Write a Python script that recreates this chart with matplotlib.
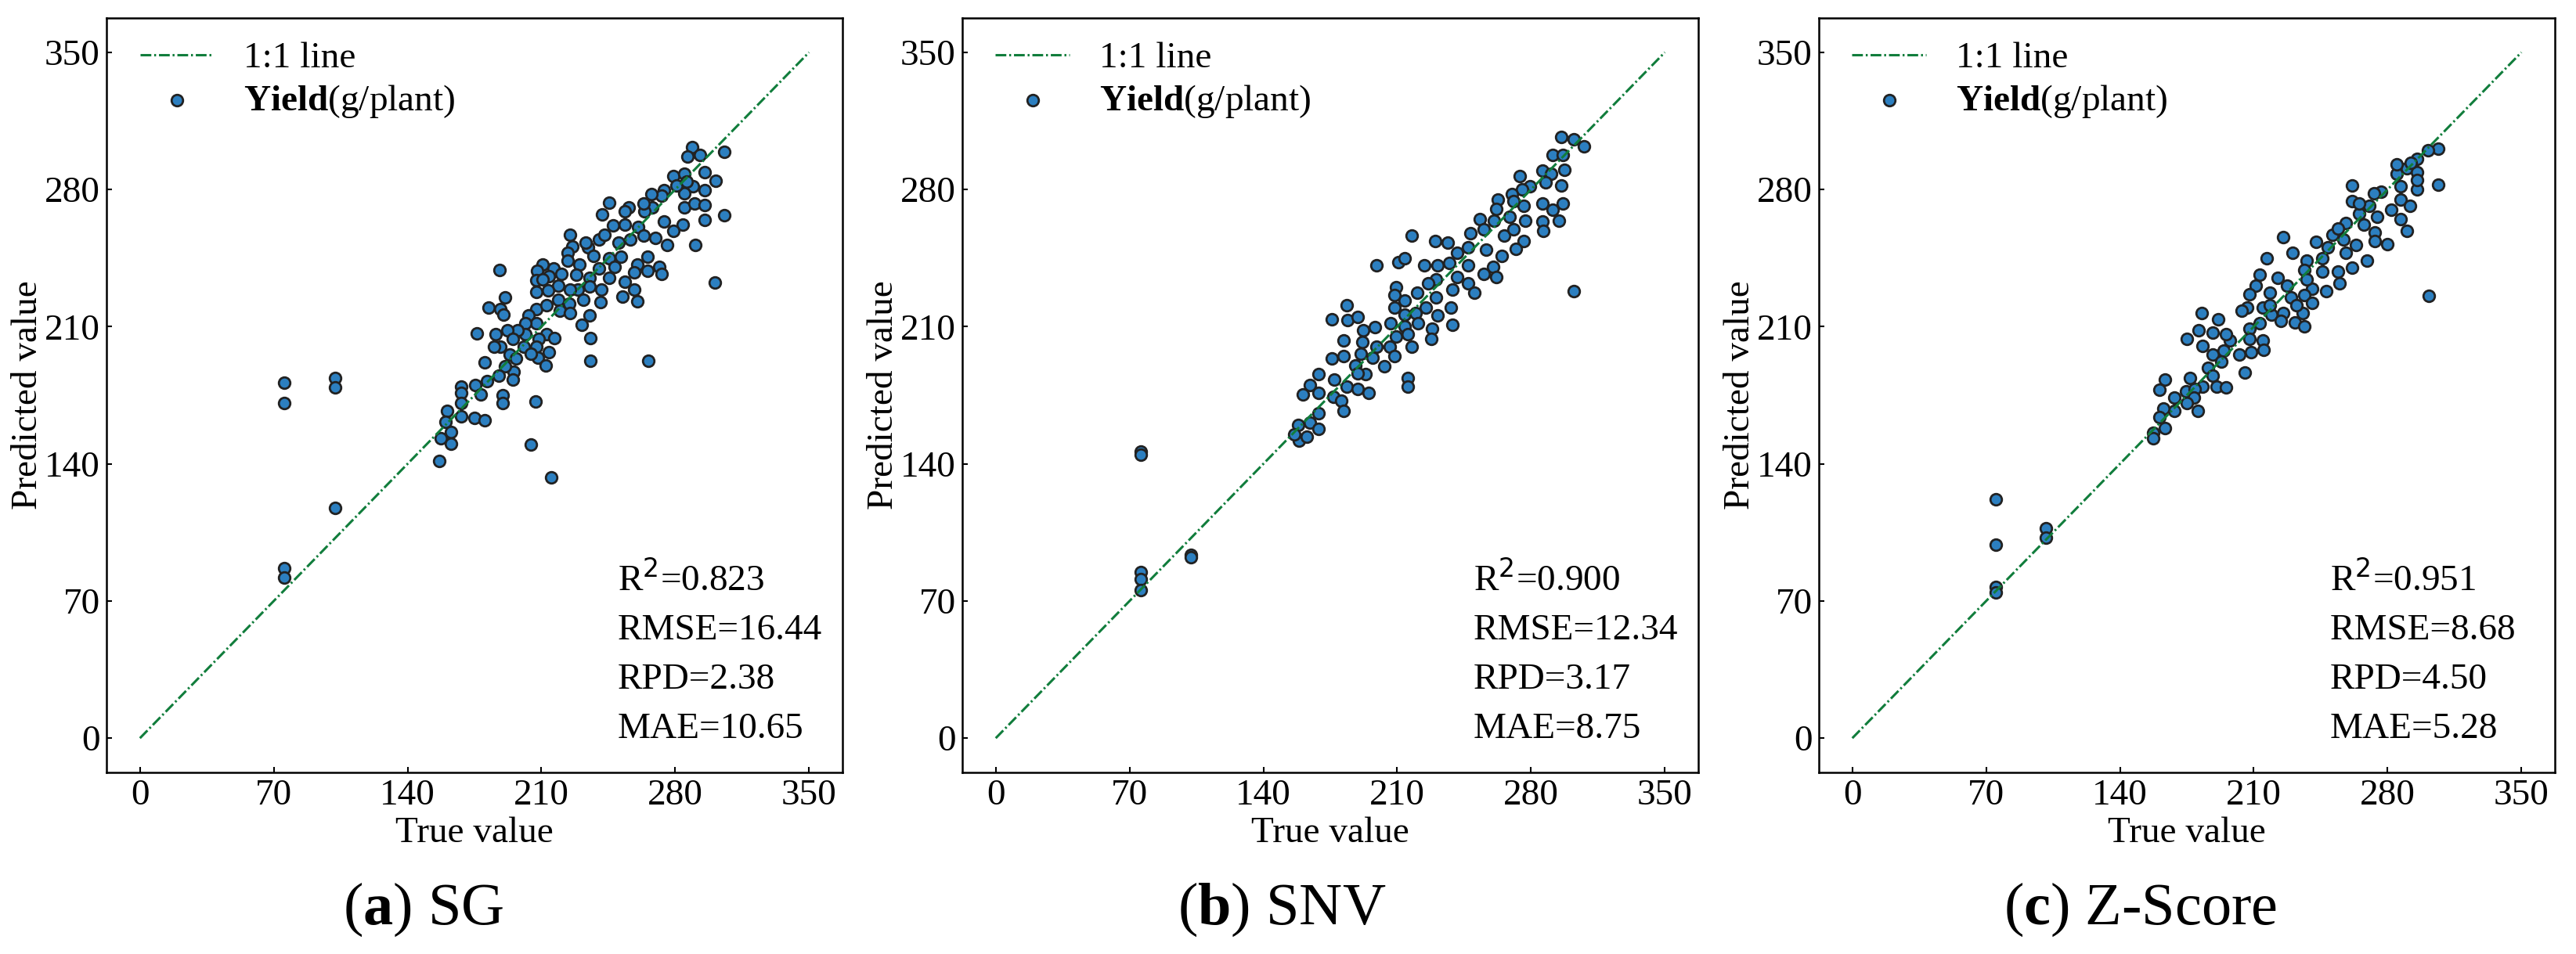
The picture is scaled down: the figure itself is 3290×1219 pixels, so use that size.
import matplotlib.pyplot as plt

plt.rcParams['font.family'] = ['Liberation Serif', 'DejaVu Serif']
plt.rcParams['mathtext.fontset'] = 'custom'
plt.rcParams['mathtext.rm'] = 'DejaVu Sans'
plt.rcParams['mathtext.bf'] = 'Liberation Serif:bold'

## values (true, predicted)
sg_true = [75.5, 75.5, 102, 102, 102.3, 75.6, 75.6, 156.5, 215,
           288.7, 286.6, 292.8, 305.8, 295.3, 279.1, 284.6, 301, 289.4, 295.3,
           284.6, 274.3, 284.6, 290, 295.3, 305.8, 295.3, 283.9, 279.1, 290.5,
           275.7, 269.5, 274.3, 268.1, 264, 255.8, 245.5, 241.8, 247.6, 253.8,
           260.6, 263.4, 256.5, 250.3, 240.1, 234.5, 237.3, 245.5, 251.7, 265.5,
           260, 271.6, 273, 300.6, 265.5, 258.6, 253.8, 245.5, 248.3, 240.1,
           225, 226.3, 223.6, 223.6, 229.8, 228.4, 235.3, 235.3, 229.2, 225,
           218.9, 216.2, 210.7, 207.9, 207.2, 207.2, 213.4, 218.9, 224.4, 231.9,
           240.8, 241.5, 252.4, 260, 258.6, 235.3, 231.2, 235.7, 235.7, 265.8,
           207.2, 212.6, 203.1, 207.2, 212.6, 216.8, 208.6, 207.2, 214, 208,
           212.1, 201.7, 201.7, 197.6, 192.1, 194.9, 186, 176.3, 188.3, 191,
           182.3, 188.7, 190.1, 188.7, 193.5, 196.9, 195.6, 190.8, 180.4, 187.9,
           194.9, 181.7, 175.6, 168.1, 168.1, 178.3, 189.9, 189.9, 207, 168.1,
           160.6, 168.1, 174.9, 180.4, 159.9, 162.7, 157.2, 162.7, 204.4, 253.8,
           263.4, 273, 267.5, 280.5, 286, 242.8, 233.2, 220.3, 214.1, 210.7,
           219.5, 225, 201, 204.4, 185.2]
sg_pred = [181.5, 171, 183.7, 179, 117.5, 86.9, 81.9, 141.5, 133,
           301.5, 296.8, 297.5, 299.3, 288.9, 286.9, 288.2, 284.5, 281.5, 279.5,
           278.2, 279.5, 270.9, 272.9, 272.2, 266.9, 264.3, 262.2, 258.9, 251.7,
           251.7, 255.3, 263.6, 270.9, 268.9, 270.9, 273.3, 267.2, 261.6, 262.2,
           260.9, 256.3, 254.3, 252.9, 254.3, 250.3, 246.3, 245, 245.7, 245.7,
           241.7, 240.4, 237.1, 232.7, 238.4, 237.7, 233.1, 235, 240.4, 239.7,
           256.9, 250.9, 247.6, 243.7, 241.7, 236.4, 235, 230.4, 229.1, 229.1,
           231.1, 239.7, 241.7, 238.4, 233.7, 227.7, 228.4, 223.8, 221.8, 223.8,
           222.5, 229.1, 225.5, 222.8, 228.8, 215.6, 210.9, 204.3, 192.6, 192.4,
           218.9, 220.9, 215.6, 211.6, 206.3, 204.3, 203.6, 199.6, 197, 194.3,
           190.3, 211.6, 206.3, 208.3, 208.3, 203.6, 206.3, 206.6, 238.9, 225,
           219.6, 218.9, 216.3, 199.6, 195.6, 193.6, 186.9, 189.6, 191.6, 184.9,
           182.9, 182.3, 180.3, 179.6, 176.3, 175.6, 174.9, 170.9, 172, 170.9,
           166.9, 164.3, 163.6, 162.3, 161.6, 156.3, 153, 150.3, 149.7, 268.9,
           272.9, 276.9, 277.6, 282.2, 284.2, 256.9, 252.9, 236.9, 235.6, 234.3,
           218.3, 217, 199.6, 196.3, 199.6]

snv_true = [75.7, 75.7, 75.7, 75.7, 75.7, 102.3, 102.3,
            296, 302.2, 307.6, 291.2, 296.7, 297.4, 285.8, 290.6, 274.2, 287.8,
            296, 279.6, 275.5, 270, 285.8, 296.7, 276.2, 270.7, 262.5, 261.9,
            291.2, 268.8, 277, 285.8, 294.6, 286.5, 253.1, 260.5, 248.2, 255.1,
            266, 270.7, 276.2, 217.5, 229.8, 236.6, 241.4, 246.9, 256.4, 264.6,
            272.1, 199, 210.6, 214.1, 224.3, 231.2, 237.3, 246.9, 260, 241.4,
            255.1, 261.9, 230.4, 226.3, 246.9, 238.7, 250.3, 302.2, 209.3, 220.3,
            230.4, 208.6, 214.1, 225, 238, 208.6, 214.1, 219.5, 231.1, 206.6,
            214.1, 221, 228.4, 238.7, 227.7, 209.3, 215.5, 217.5, 206, 208.6,
            203.2, 183.4, 175.9, 184, 189.5, 192.3, 198.4, 182, 191.6, 199,
            175.9, 182, 190.9, 197, 188.1, 193.6, 189.5, 215.4, 215.4, 169,
            164.2, 160.8, 169, 177.2, 183.4, 176.5, 180.6, 189.5, 195, 182,
            169, 158.1, 164.2, 169, 158.8, 162.9, 156]
snv_pred = [146.1, 144.6, 84.7, 81, 75.4, 93.4, 92.5,
            306.8, 305.5, 302.2, 297.5, 297.5, 290.2, 289.5, 288.2, 286.9, 283.5,
            282.2, 281.5, 280.2, 277.5, 272.9, 272.9, 271.6, 274.2, 274.9, 270.2,
            269.5, 266.2, 264.2, 263.6, 264.2, 258.9, 264.9, 264.2, 257.6, 259.6,
            256.3, 259.6, 253.6, 256.3, 253.6, 252.9, 247.9, 250.3, 249.2, 246.3,
            249.6, 241.2, 242.9, 244.9, 241.2, 241.2, 242.5, 241.2, 240.5, 235.5,
            236.9, 235.5, 234.2, 232.2, 232.2, 228.9, 227.5, 228.2, 230.2, 227.5,
            224.9, 226.2, 223.5, 219.6, 219.6, 219.6, 216.3, 216.9, 215.6, 211.6,
            210.3, 211.6, 209, 210.9, 203.6, 205, 206.3, 199.6, 199.6, 194.9,
            189.6, 220.9, 213.6, 213.2, 214.9, 208.3, 209.6, 203, 202.3, 199.6,
            193.6, 194.9, 196.3, 194.3, 190.3, 185.6, 186.3, 183.6, 179.6, 185.6,
            180.3, 175.6, 176.3, 182.9, 179.6, 174.3, 172.3, 178.3, 176.3, 167,
            165.7, 159.7, 161, 157.7, 151.7, 153.7, 155.1]

zs_true = [74.9, 74.9, 75, 75, 101.4, 101.4,
           306.4, 301, 295.5, 290.1, 295.5, 284.6, 306.4, 261.5, 261.5, 286.8,
           295.5, 276.5, 286.8, 291.6, 282.1, 270.5, 274.6, 286.8, 290.1, 265,
           258.2, 267.7, 273.2, 280, 225.4, 242.5, 251.3, 256.8, 263.6, 273.2,
           230.2, 216.6, 237.7, 245.9, 258.2, 269.1, 213.2, 222.7, 236.4, 245.9,
           254.1, 261.5, 254.8, 248, 240.5, 227.5, 211.2, 207.7, 218.6, 229.5,
           236.4, 240.5, 301.4, 206.4, 214.6, 219.3, 225.4, 235.6, 231.5, 236.4,
           224, 213.2, 207.7, 182.6, 191.5, 181.2, 188.7, 175.1, 183.3, 197.5,
           195.5, 207.7, 214.6, 215.3, 208.4, 202.4, 194.2, 188.7, 186, 192.9,
           205.2, 188.7, 190.7, 195.5, 183.3, 176.5, 163.5, 160.8, 168.3, 174.4,
           179.2, 178.5, 175.1, 180.6, 168.3, 162.8, 160.8, 163.5, 157.4, 157.4,
           295.5, 284.6, 292.1, 273, 265, 248.6, 254.1, 237.7, 232.2, 218.6,
           203.6]
zs_pred = [122, 98.8, 77, 74.5, 107.1, 102.5,
           300.8, 300.2, 295.5, 290.9, 288.9, 288.2, 282.5, 282.2, 274, 281.5,
           280.2, 278.9, 274.9, 271.6, 269.5, 271.6, 266.2, 264.9, 258.9, 267.6,
           262.9, 262.2, 258.2, 251.9, 255.6, 253.2, 256.9, 254.3, 251.6, 253.6,
           247.9, 244.9, 243.6, 244.9, 247.6, 243.6, 236.7, 235, 238.9, 238.2,
           238.2, 240.2, 232.2, 228.2, 229.5, 230.9, 230.9, 226.5, 227.5, 224.9,
           226.2, 222.2, 225.6, 219.6, 219.6, 216.3, 216.9, 216.9, 212.3, 210.3,
           212.9, 211.6, 209, 216.9, 213.6, 208.3, 206.9, 203.6, 200.3, 202.9,
           206.3, 203.6, 202.9, 198.3, 197, 195.6, 197.6, 195.6, 189, 192.3,
           186.6, 185, 179.6, 179, 179.6, 183.6, 183, 177.7, 173.7, 177,
           178.3, 173.7, 171, 167, 167, 168.4, 163.7, 158.4, 155.7, 153,
           284.9, 292.9, 293.5, 278.2, 272.9, 250.3, 260.2, 234.3, 220.9, 220.9,
           218.3]

panel_true = [sg_true, snv_true, zs_true]
panel_pred = [sg_pred, snv_pred, zs_pred]
captions = [r"($\mathbf{a}$) SG", r"($\mathbf{b}$) SNV", r"($\mathbf{c}$) Z-Score"]
r2_list = ["0.823", "0.900", "0.951"]
rmse_list = ["16.44", "12.34", "8.68"]
rpd_list = ["2.38", "3.17", "4.50"]
mae_list = ["10.65", "8.75", "5.28"]
ticks = [0, 70, 140, 210, 280, 350]
one_line = [0, 350]

fig = plt.figure(figsize=(32.91, 12.19), dpi=100)

ax_left = [136 / 3291, 1229 / 3291, 2323 / 3291]
cap_x = [541 / 3291, 1637 / 3291, 2734 / 3291]
fs = 34

for i in range(3):
    ax = fig.add_axes([ax_left[i], 0.1903, 940 / 3291, 0.7908])
    sc = ax.scatter(panel_true[i], panel_pred[i], s=110, c='#2c7fc0',
                    edgecolors='#222222', linewidths=2, zorder=2)
    ln, = ax.plot(one_line, one_line, color='#117d3c', lw=2.2,
                  ls=(0, (4.5, 1.2, 0.8, 1.2)), zorder=3)
    ax.set_xlim(-17.5, 367.5)
    ax.set_ylim(-17.5, 367.5)
    ax.set_xticks(ticks)
    ax.set_yticks(ticks)
    ax.tick_params(direction='in', length=5, width=1.5, labelsize=fs, pad=6)
    for sp in ax.spines.values():
        sp.set_linewidth(1.8)
    ax.set_xlabel("True value", fontsize=fs, labelpad=4)
    ax.set_ylabel("Predicted value", fontsize=fs, labelpad=0)
    ax.legend([ln, sc], ["1:1 line", r"$\mathbf{Yield}$(g/plant)"],
              loc='upper left', bbox_to_anchor=(0, 1.013), frameon=False,
              fontsize=fs, labelspacing=0.2, scatterpoints=1)
    stats = [r"R$^{2}$=" + r2_list[i], "RMSE=" + rmse_list[i],
             "RPD=" + rpd_list[i], "MAE=" + mae_list[i]]
    for k, txt in enumerate(stats):
        ax.text(250, 75.4 - 25.1 * k, txt, fontsize=fs, ha='left', va='baseline')
    fig.text(cap_x[i], 0.0468, captions[i], fontsize=55, ha='center', va='center')

fig.savefig("out.png", dpi=100)
